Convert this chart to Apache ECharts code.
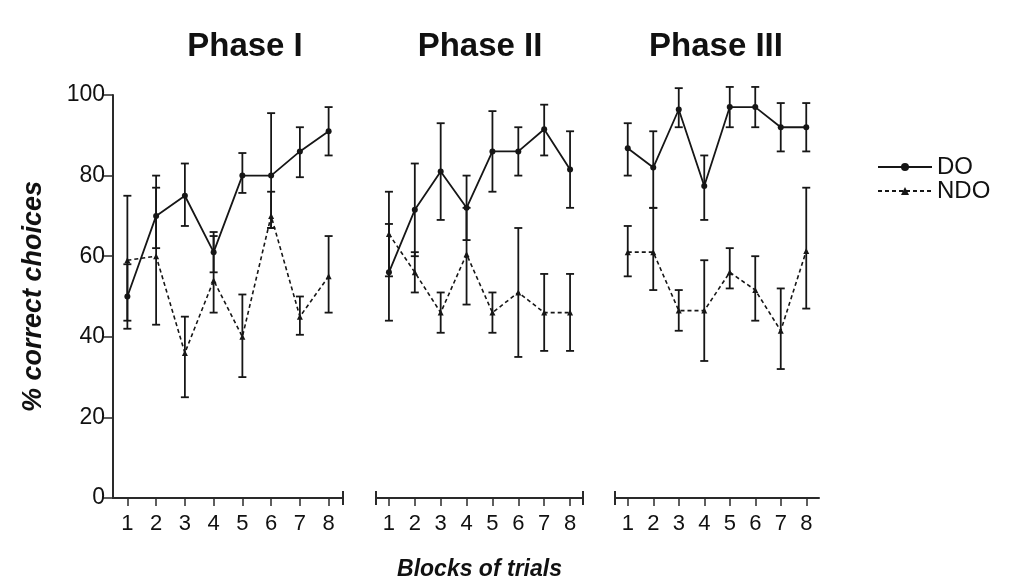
<!DOCTYPE html>
<html><head><meta charset="utf-8">
<script src="https://cdn.jsdelivr.net/npm/echarts@6/dist/echarts.min.js"></script>
<style>html,body{margin:0;padding:0;background:#fff}#c{width:1009px;height:587px}</style>
</head><body><div id="c"></div>
<script>
// ---- data ----
const blocks = ['1','2','3','4','5','6','7','8'];
const phaseNames = ['Phase I','Phase II','Phase III'];
const seriesNames = ['DO','NDO'];

const doMeanP1 = [50, 70, 75, 61, 80, 80, 86, 91];
const doLowP1  = [42, 62, 67.5, 56, 75.7, 67, 79.6, 85];
const doHighP1 = [58, 80, 83, 66, 85.6, 95.5, 92, 97];
const ndoMeanP1 = [59, 60, 36, 54, 40, 70, 45, 55];
const ndoLowP1  = [44, 43, 25, 46, 30, 67, 40.5, 46];
const ndoHighP1 = [75, 77, 45, 65, 50.5, 76, 50, 65];

const doMeanP2 = [56, 71.5, 81, 72, 86, 86, 91.5, 81.5];
const doLowP2  = [44, 60, 69, 64, 76, 80, 85, 72];
const doHighP2 = [68, 83, 93, 80, 96, 92, 97.6, 91];
const ndoMeanP2 = [65.5, 56, 46, 60.5, 46, 51, 46, 46];
const ndoLowP2  = [55, 51, 41, 48, 41, 35, 36.5, 36.5];
const ndoHighP2 = [76, 61, 51, 72, 51, 67, 55.6, 55.6];

const doMeanP3 = [86.8, 82, 96.4, 77.4, 97, 97, 92, 92];
const doLowP3  = [80, 72, 92, 69, 92, 92, 86, 86];
const doHighP3 = [93, 91, 101.7, 85, 102, 102, 98, 98];
const ndoMeanP3 = [61, 61, 46.5, 46.5, 56, 51.6, 41.5, 61.3];
const ndoLowP3  = [55, 51.6, 41.5, 34, 52, 44, 32, 47];
const ndoHighP3 = [67.5, 72, 51.6, 59, 62, 60, 52, 77];

const yMin = 0, yMax = 100, yStep = 20;
const yName = '% correct choices';
const xName = 'Blocks of trials';

// ---- chart ----
const FONT = 'Liberation Sans, Arial, sans-serif';
const INK = '#161616';
const chart = echarts.init(document.getElementById('c'), null, {renderer:'canvas'});

const grids = [
  {left:113, width:230, top:95, height:403},
  {left:376, width:207, top:95, height:403},
  {left:615, width:204, top:95, height:403}
];
const caps = [['none','rect'], ['rect','rect'], ['rect','none']];

function zip3(a,b,c){ return blocks.map((k,i)=>[k, b[i], c[i]]); }

function errRender(params, api){
  const x = api.value(0);
  const lo = api.coord([x, api.value(1)]);
  const hi = api.coord([x, api.value(2)]);
  const cw = 4;
  const st = {stroke: INK, lineWidth: 1.8};
  return {type:'group', children:[
    {type:'line', shape:{x1:lo[0], y1:lo[1], x2:hi[0], y2:hi[1]}, style:st},
    {type:'line', shape:{x1:lo[0]-cw, y1:lo[1], x2:lo[0]+cw, y2:lo[1]}, style:st},
    {type:'line', shape:{x1:hi[0]-cw, y1:hi[1], x2:hi[0]+cw, y2:hi[1]}, style:st}
  ]};
}

const phases = [
  {doM:doMeanP1, doL:doLowP1, doH:doHighP1, nM:ndoMeanP1, nL:ndoLowP1, nH:ndoHighP1},
  {doM:doMeanP2, doL:doLowP2, doH:doHighP2, nM:ndoMeanP2, nL:ndoLowP2, nH:ndoHighP2},
  {doM:doMeanP3, doL:doLowP3, doH:doHighP3, nM:ndoMeanP3, nL:ndoLowP3, nH:ndoHighP3}
];

const xAxes = grids.map((g,i)=>({
  type:'category', gridIndex:i, data:blocks, boundaryGap:true,
  axisLine:{show:true, lineStyle:{color:'#2a2a2a', width:2}, symbol:caps[i], symbolSize:[14,2], symbolOffset:[0,0]},
  axisTick:{show:true, alignWithLabel:true, length:8, lineStyle:{color:'#2a2a2a', width:1.5}},
  axisLabel:{fontSize:22, color:'#111', margin:15, fontFamily:FONT},
  splitLine:{show:false},
  name: i===1 ? xName : '',
  nameLocation:'middle', nameGap:60,
  nameTextStyle:{fontSize:23, fontStyle:'italic', fontWeight:'bold', color:'#111', fontFamily:FONT}
}));

const yAxes = grids.map((g,i)=>({
  type:'value', gridIndex:i, min:yMin, max:yMax, interval:yStep,
  show: i===0,
  axisLine:{show:true, lineStyle:{color:'#2a2a2a', width:2}},
  axisTick:{show:true, length:10, lineStyle:{color:'#2a2a2a', width:1.5}},
  axisLabel:{fontSize:23, color:'#111', margin:8, fontFamily:FONT},
  splitLine:{show:false},
  name: i===0 ? yName : '',
  nameLocation:'middle', nameGap:66, nameRotate:90,
  nameTextStyle:{fontSize:27, fontStyle:'italic', fontWeight:'bold', color:'#111', fontFamily:FONT}
}));

const series = [];
phases.forEach((p,i)=>{
  series.push({type:'custom', name:'DO err', xAxisIndex:i, yAxisIndex:i, data:zip3(blocks,p.doL,p.doH),
    renderItem:errRender, encode:{x:0, y:[1,2]}, z:2, silent:true});
  series.push({type:'custom', name:'NDO err', xAxisIndex:i, yAxisIndex:i, data:zip3(blocks,p.nL,p.nH),
    renderItem:errRender, encode:{x:0, y:[1,2]}, z:2, silent:true});
  series.push({type:'line', name:seriesNames[0], xAxisIndex:i, yAxisIndex:i, data:p.doM,
    symbol:'circle', symbolSize:6, showSymbol:true,
    lineStyle:{color:INK, width:1.8, type:'solid'}, itemStyle:{color:INK}, z:3, animation:false});
  series.push({type:'line', name:seriesNames[1], xAxisIndex:i, yAxisIndex:i, data:p.nM,
    symbol:'triangle', symbolSize:6, showSymbol:true,
    lineStyle:{color:INK, width:1.6, type:[4,3]}, itemStyle:{color:INK}, z:3, animation:false});
});

const titleX = [245, 480, 716];
const graphics = phaseNames.map((t,i)=>({
  type:'text', x:titleX[i], y:30,
  style:{text:t, font:'bold 33px ' + FONT, fill:'#111', textAlign:'center', textVerticalAlign:'top'}
}));

chart.setOption({
  backgroundColor:'#ffffff',
  animation:false,
  grid: grids,
  xAxis: xAxes,
  yAxis: yAxes,
  legend:{
    data: seriesNames, orient:'vertical', left:872, top:150,
    itemWidth:54, itemHeight:10, itemGap:0,
    textStyle:{fontSize:24, color:'#111', fontFamily:FONT}
  },
  graphic: graphics,
  series: series
});
</script>
</body></html>
